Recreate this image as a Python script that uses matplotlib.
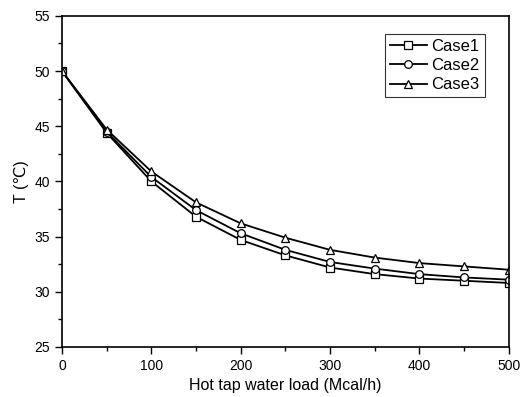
import matplotlib
matplotlib.use("Agg")
import matplotlib.pyplot as plt
from matplotlib.ticker import MultipleLocator

plt.rcParams['font.family'] = ['Liberation Sans', 'DejaVu Sans']

load = [0, 50, 100, 150, 200, 250, 300, 350, 400, 450, 500]
case1 = [50.0, 44.4, 40.0, 36.8, 34.7, 33.3, 32.2, 31.6, 31.2, 31.0, 30.8]
case2 = [50.0, 44.5, 40.4, 37.4, 35.3, 33.8, 32.7, 32.1, 31.6, 31.3, 31.1]
case3 = [50.0, 44.7, 40.9, 38.1, 36.2, 34.9, 33.8, 33.1, 32.6, 32.3, 32.0]

fig = plt.figure(figsize=(5.3, 3.97), dpi=100)
ax = fig.add_axes([0.117, 0.126, 0.843, 0.834])

style = dict(color='black', lw=1.3, mfc='white', mec='black', mew=0.9, ms=5.5)
ax.plot(load, case1, marker='s', label='Case1', **style)
ax.plot(load, case2, marker='o', label='Case2', **style)
ax.plot(load, case3, marker='^', label='Case3', **style)

ax.set_xlim(0, 500)
ax.set_ylim(25, 55)
ax.xaxis.set_major_locator(MultipleLocator(100))
ax.xaxis.set_minor_locator(MultipleLocator(50))
ax.yaxis.set_major_locator(MultipleLocator(5))
ax.yaxis.set_minor_locator(MultipleLocator(2.5))
ax.tick_params(which='both', direction='out', labelsize=10, width=1)
ax.tick_params(which='major', length=5)
ax.tick_params(which='minor', length=3)
for s in ax.spines.values():
    s.set_linewidth(1.2)

ax.set_xlabel('Hot tap water load (Mcal/h)', fontsize=11.5)
ax.set_ylabel('T (℃)', fontsize=11.5)

leg = ax.legend(loc='upper right', bbox_to_anchor=(0.965, 0.97), fontsize=12,
                frameon=True, fancybox=False, edgecolor='black',
                handlelength=2.2, borderpad=0.3, labelspacing=0.25,
                handletextpad=0.3)
leg.get_frame().set_linewidth(0.8)

fig.savefig('out.png', dpi=100)
